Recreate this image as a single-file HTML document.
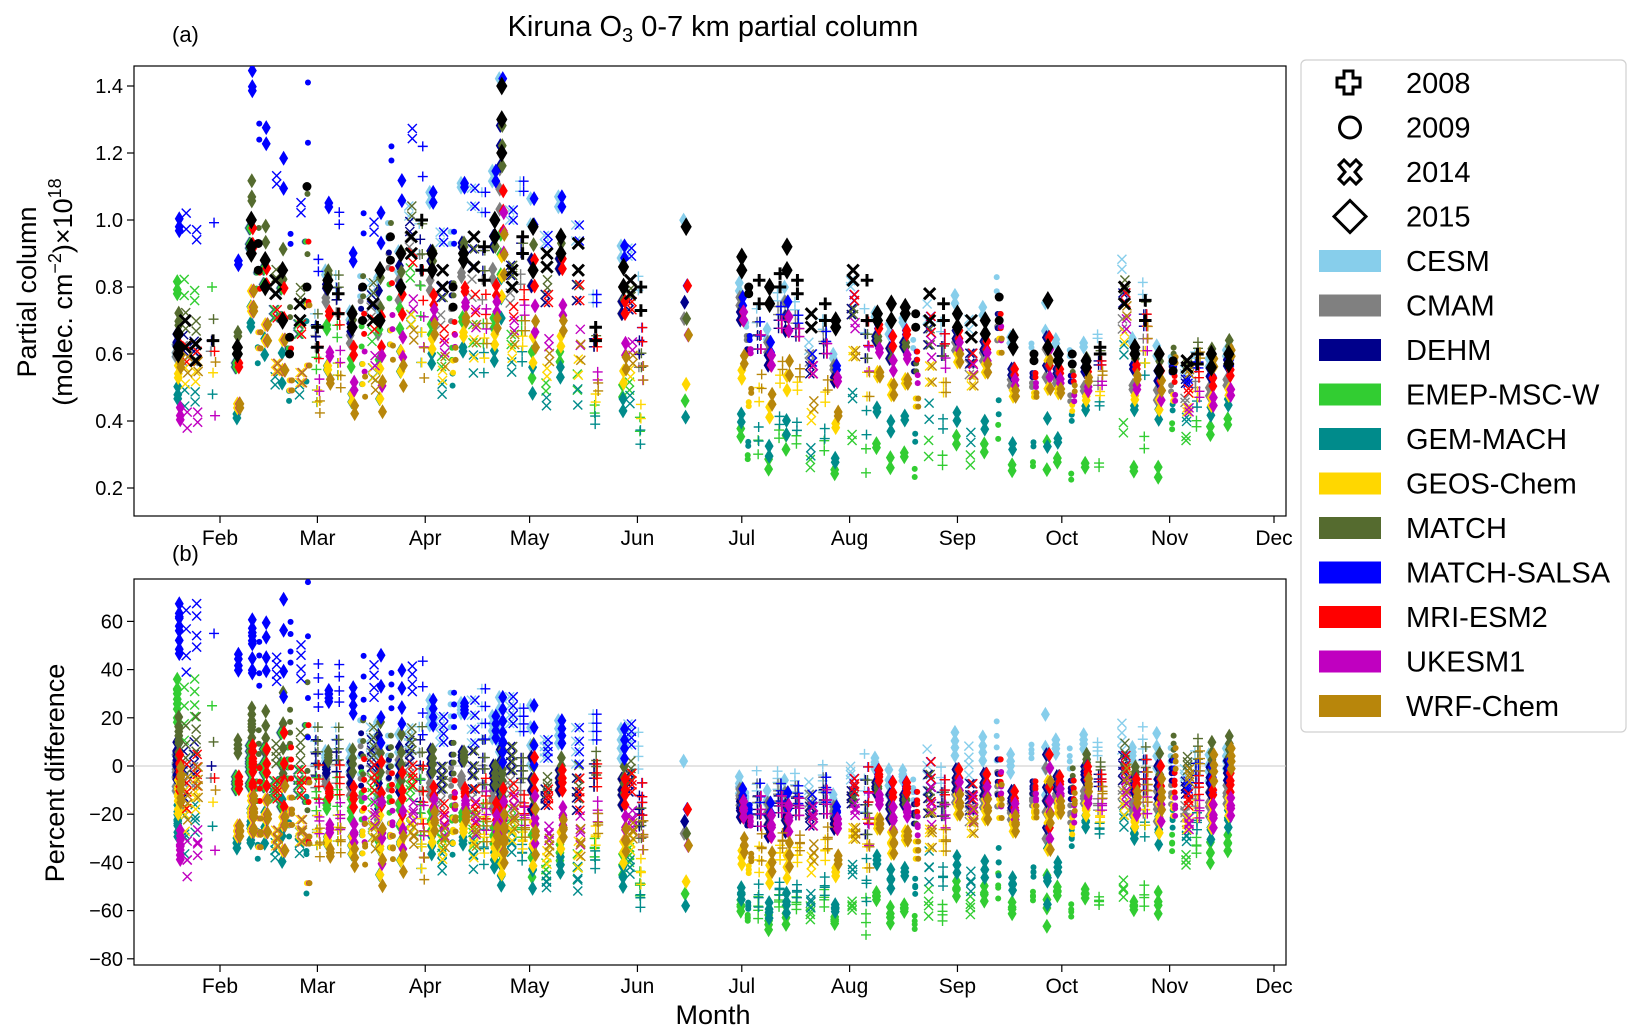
<!DOCTYPE html>
<html><head><meta charset="utf-8"><style>
body{margin:0;background:#fff;}
svg{display:block;font-family:"Liberation Sans","DejaVu Sans",sans-serif;}
</style></head><body>
<svg id="chart" width="1642" height="1035" viewBox="0 0 1642 1035" xmlns="http://www.w3.org/2000/svg">
<defs>
<clipPath id="clipA"><rect x="134" y="66" width="1152" height="450"/></clipPath>
<clipPath id="clipB"><rect x="134" y="579" width="1152" height="386"/></clipPath>
</defs>
<rect x="0" y="0" width="1642" height="1035" fill="#fff"/>
<text x="713" y="36" font-size="29" text-anchor="middle">Kiruna O<tspan font-size="20" dy="6">3</tspan><tspan dy="-6"> 0-7 km partial column</tspan></text>
<text x="172" y="42" font-size="22">(a)</text>
<text x="172" y="561" font-size="22">(b)</text>
<g id="gA"></g>
<g id="gB"></g>
<text transform="translate(36,292) rotate(-90)" font-size="27" text-anchor="middle">Partial column</text>
<text transform="translate(72,292) rotate(-90)" font-size="27" text-anchor="middle">(molec. cm<tspan font-size="18" dy="-11">−2</tspan><tspan dy="11">)×10</tspan><tspan font-size="18" dy="-11">18</tspan></text>
<text transform="translate(64,773) rotate(-90)" font-size="27" text-anchor="middle">Percent difference</text>
<text x="713" y="1024" font-size="27" text-anchor="middle">Month</text>
<g id="legend"></g>
</svg>
<script>
const monthLabels=["Feb","Mar","Apr","May","Jun","Jul","Aug","Sep","Oct","Nov","Dec"];
const monthStarts=[32,60,91,121,152,182,213,244,274,305,335];
const yTicksA=[0.2,0.4,0.6,0.8,1.0,1.2,1.4];
const yTicksB=[-80,-60,-40,-20,0,20,40,60];
const yearLabels=["2008","2009","2014","2015"];
const modelNames=["CESM","CMAM","DEHM","EMEP-MSC-W","GEM-MACH","GEOS-Chem","MATCH","MATCH-SALSA","MRI-ESM2","UKESM1","WRF-Chem"];
const modelColors=["#87CEEB","#808080","#00008B","#32CD32","#008B8B","#FFD700","#556B2F","#0000FF","#FF0000","#C000C0","#B8860B"];
// measurement days (day of year)
const dates=[20,22,25,30,37,41,43,45,48,50,52,55,57,60,63,66,70,73,76,78,81,84,87,90,93,96,99,102,105,108,111,113,116,119,122,126,130,135,140,148,150,153,166,182,184,187,190,193,195,198,202,206,209,214,218,221,225,229,232,236,240,244,248,252,256,260,266,270,273,277,281,285,292,295,298,302,306,310,313,317,322];
// year code: 0=2008,1=2009,2=2014,3=2015
const years=[3,2,2,0,3,3,1,3,2,3,1,2,1,0,3,0,3,1,2,3,1,3,2,0,3,2,1,3,2,0,3,3,2,0,3,2,3,2,0,3,2,0,3,3,1,0,3,0,3,0,2,0,3,2,0,3,3,3,1,2,0,3,2,3,1,3,1,3,3,1,3,0,2,3,0,3,1,2,0,3,3];
// observed partial columns (1e18 molec/cm2)
const obsVals=[[0.62,0.60,0.66],[0.70,0.62],[0.63,0.58],[0.64],[0.60,0.62],[0.90,1.0,0.92],[0.85,0.93],[0.88,0.80],[0.78,0.82],[0.85,0.70],[0.65,0.60],[0.70,0.75],[1.10,0.80],[0.62,0.68],
[0.82,0.80],[0.72,0.78],[0.72,0.68],[0.70,0.80],[0.75,0.70],[0.70,0.85],[0.95,0.88],[0.80,0.90],[0.90,0.95],[0.85,1.0],
[0.85,0.90],[0.80,0.85],[0.80,0.74],[0.90,0.88],[0.95,0.86],[0.82,0.92],[0.95,1.0],[1.40,1.30,1.20],[0.85,0.80],[0.90,0.95],
[0.98,0.85],[0.90,0.86],[0.95,0.90],[0.93,0.85],[0.68,0.64],[0.86,0.80],[0.82,0.78],[0.73,0.80],[0.98],
[0.89,0.85],[0.78,0.80],[0.82,0.75],[0.80,0.75],[0.84,0.80],[0.92,0.85],[0.78,0.82],[0.72,0.68],[0.75,0.70],[0.70,0.68],
[0.85,0.82],[0.82,0.70],[0.72,0.70],[0.75,0.70],[0.74,0.72],[0.72,0.68],[0.78,0.70],[0.75,0.70],
[0.72,0.68],[0.70,0.65],[0.70,0.66],[0.77,0.70],[0.65,0.62],
[0.60,0.58],[0.76,0.62],[0.60,0.58],[0.60,0.57],[0.58,0.56],[0.62,0.60],
[0.80,0.75],[0.62,0.60],[0.76,0.70],[0.60,0.55],[0.58,0.55],[0.56,0.58],[0.60,0.57],[0.60,0.56],[0.60,0.57]];
// per-date common model deviation (%)
const dayDev=[2,-4,3,0,-2,5,-3,4,-5,2,6,-2,-6,3,-1,4,-3,2,5,-4,1,-2,6,-3,2,-5,3,4,-2,1,-4,-6,3,-1,2,-3,4,-2,6,-1,3,-4,-8,2,-3,1,-5,4,-2,3,-1,5,-4,2,-3,6,-2,1,-5,3,-1,4,-3,2,5,-4,1,-2,3,-5,2,-1,4,-3,1,-2,3,-4,2,-1,3];
// monthly model bias (%), Jan..Nov
const biasCESM=[-5,-5,5,20,10,10,-10,-5,5,8,0];
const biasCMAM=[-5,-5,-5,-10,-10,-20,-15,-15,-15,-15,-15];
const biasDEHM=[0,-5,0,0,-10,-15,-20,-15,-10,-5,-5];
const biasEMEP=[25,-5,-15,-25,-40,-45,-60,-60,-55,-55,-35];
const biasGEM=[-25,-30,-30,-35,-45,-50,-55,-45,-45,-25,-25];
const biasGEOS=[-15,-25,-30,-30,-35,-40,-40,-30,-20,-20,-20];
const biasMATCH=[10,10,5,0,-5,-20,-15,-15,-10,0,5];
const biasSALSA=[55,45,30,20,10,-10,-15,-10,-10,-5,-5];
const biasMRI=[-5,-5,-10,-15,-10,-10,-20,-10,-10,-5,-10];
const biasUKESM=[-35,-25,-25,-20,-25,-25,-20,-20,-15,-15,-20];
const biasWRF=[-10,-25,-35,-25,-30,-25,-35,-30,-20,-10,0];
const modelBias=[biasCESM,biasCMAM,biasDEHM,biasEMEP,biasGEM,biasGEOS,biasMATCH,biasSALSA,biasMRI,biasUKESM,biasWRF];

const NS="http://www.w3.org/2000/svg";
const X0=134,X1=1286,AT=66,AB=516,BT=579,BB=965;
function xScale(d){return 220+(d-32)*(1054/303);}
function yA(v){return 488-(v-0.2)/0.2*67;}
function yB(v){return 766-v*2.41;}
function mk(tag,attrs,parent){const e=document.createElementNS(NS,tag);for(const k in attrs)e.setAttribute(k,attrs[k]);parent.appendChild(e);return e;}
function monthIdx(d){let m=0;for(let i=0;i<monthStarts.length;i++){if(d>=monthStarts[i])m=i+1;}return Math.min(m,10);}
function marker(parent,type,cx,cy,col,big){
  let e;
  const s=big?1.25:1;
  if(type===3){e=mk("path",{d:`M${cx} ${cy-7.5*s}L${cx+4.5*s} ${cy}L${cx} ${cy+7.5*s}L${cx-4.5*s} ${cy}Z`,fill:col},parent);}
  else if(type===1){e=mk("circle",{cx:cx,cy:cy,r:big?4.5:3,fill:col},parent);}
  else if(type===0){const h=5*s;e=mk("path",{d:`M${cx-h} ${cy}H${cx+h}M${cx} ${cy-h}V${cy+h}`,stroke:col,"stroke-width":big?3:1.4,fill:"none"},parent);}
  else {const h=4.5*s;e=mk("path",{d:`M${cx-h} ${cy-h}L${cx+h} ${cy+h}M${cx-h} ${cy+h}L${cx+h} ${cy-h}`,stroke:col,"stroke-width":big?3:1.4,fill:"none"},parent);}
  return e;
}
function axes(g,top,bot,ticks,yf,fmt,labY,nameSuffix){
  const frame=mk("rect",{x:X0,y:top,width:X1-X0,height:bot-top,fill:"none",stroke:"#000","stroke-width":1.2},g);
  
  
  ticks.forEach(t=>{
    const y=yf(t);
    mk("line",{x1:X0-7,x2:X0,y1:y,y2:y,stroke:"#000","stroke-width":1.2},g);
    const tx=mk("text",{x:X0-11,y:y+7,"font-size":20,"text-anchor":"end"},g);
    tx.textContent=fmt(t);
    
    
  });
  monthStarts.forEach((d,i)=>{
    const x=xScale(d);
    mk("line",{x1:x,x2:x,y1:bot,y2:bot+7,stroke:"#000","stroke-width":1.2},g);
    const tx=mk("text",{x:x,y:labY,"font-size":21,"text-anchor":"middle"},g);
    tx.textContent=monthLabels[i];
    
    
  });
}
const gA=document.getElementById("gA"),gB=document.getElementById("gB");
axes(gA,AT,AB,yTicksA,yA,t=>t.toFixed(1),545,"a");
axes(gB,BT,BB,yTicksB,yB,t=>(t<0?"−"+(-t):""+t),993,"b");
mk("line",{x1:X0,x2:X1,y1:yB(0),y2:yB(0),stroke:"#c8c8c8","stroke-width":1},gB);
const pA=mk("g",{"clip-path":"url(#clipA)"},gA);
const pB=mk("g",{"clip-path":"url(#clipB)"},gB);
for(let m=0;m<modelNames.length;m++){
  const gm=mk("g",{},pA), gmb=mk("g",{},pB);
  
  
  
  
  for(let i=0;i<dates.length;i++){
    const obs=obsVals[i];
    const mean=obs.reduce((a,b)=>a+b,0)/obs.length;
    const b=modelBias[m][monthIdx(dates[i])]+dayDev[i];
    const x=xScale(dates[i])+(m-5)*0.5;
    obs.forEach(o=>{
      const val=mean*(1+b/100)+(o-mean)*0.6;
      const p=marker(gm,years[i],x,yA(val),modelColors[m],false);
      
      
      obs.forEach(o2=>{
        const pd=(val/o2-1)*100;
        const q=marker(gmb,years[i],x,yB(pd),modelColors[m],false);
        
        
      });
    });
  }
}
const gObs=mk("g",{},pA);


for(let i=0;i<dates.length;i++){
  obsVals[i].forEach(o=>{
    const p=marker(gObs,years[i],xScale(dates[i]),yA(o),"#000",true);
    
    
  });
}
// legend
const lg=document.getElementById("legend");
const lb=mk("rect",{x:1301,y:60,width:325,height:672,rx:5,fill:"#fff",stroke:"#d0d0d0","stroke-width":1.2},lg);


const entries=yearLabels.length+modelNames.length;
for(let k=0;k<entries;k++){
  const cy=83+k*44.5;
  const eg=mk("g",{},lg);
  
  
  let label;
  if(k<4){
    label=yearLabels[k];
    if(k===0)mk("path",{d:`M1344 ${cy-12}h9v7h7v9h-7v7h-9v-7h-7v-9h7z`,fill:"none",stroke:"#000","stroke-width":3},eg);
    else if(k===1)mk("circle",{cx:1350,cy:cy,r:10.5,fill:"none",stroke:"#000","stroke-width":3},eg);
    else if(k===2)mk("path",{d:`M1344 ${cy-12}l6 6l6-6l5 5l-6 7l6 7l-5 5l-6-6l-6 6l-5-5l6-7l-6-7z`,fill:"none",stroke:"#000","stroke-width":3},eg);
    else mk("path",{d:`M1350 ${cy-16}L1366 ${cy}L1350 ${cy+16}L1334 ${cy}Z`,fill:"none",stroke:"#000","stroke-width":3},eg);
  } else {
    label=modelNames[k-4];
    mk("rect",{x:1319,y:cy-11,width:62,height:22,fill:modelColors[k-4]},eg);
  }
  const t=mk("text",{x:1406,y:cy+10,"font-size":29},eg);
  t.textContent=label;
}
</script>
</body></html>
